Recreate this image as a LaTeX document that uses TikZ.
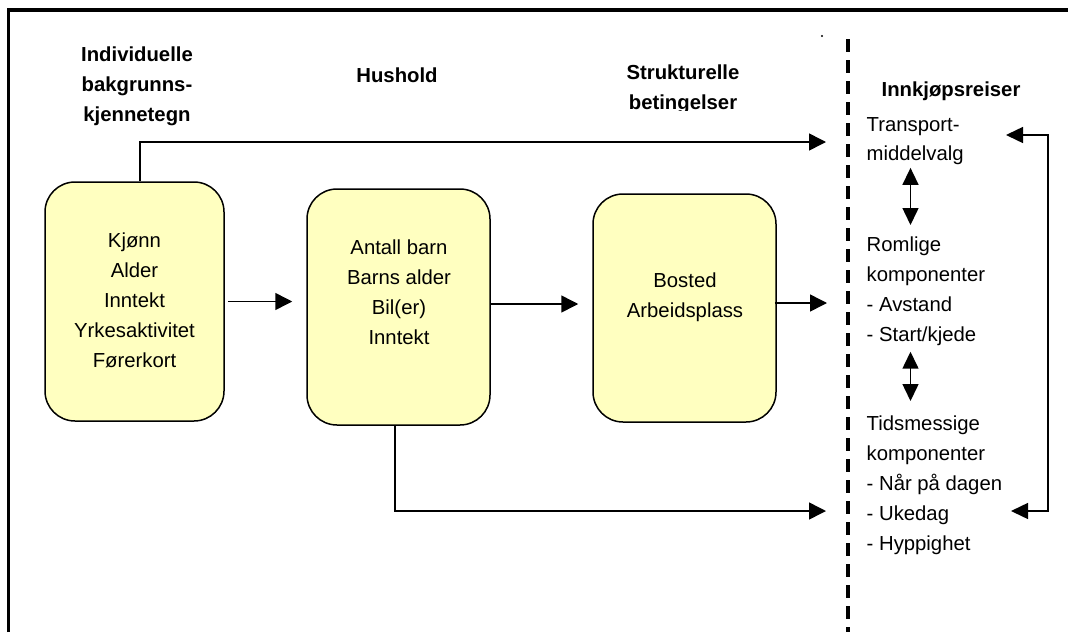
\documentclass[tikz,border=0pt]{standalone}
\usepackage{fontspec}
\setmainfont{Liberation Sans}
\usetikzlibrary{arrows.meta}
\definecolor{boxYellow}{RGB}{255,255,192}
\begin{document}
\begin{tikzpicture}[x=1pt, y=-1pt,
    every node/.style={font=\fontsize{20.3}{29.8}\selectfont}]

  \tikzstyle{factorBox} = [draw, line width=1.5, fill=boxYellow, rounded corners=30];
  \tikzstyle{txt} = [inner sep=0, align=center, anchor=north];
  \tikzstyle{listTxt} = [inner sep=0, align=left, anchor=north west];
  \tikzstyle{arr} = [line width=1.5, -{Triangle[length=17, width=17]}];
  \tikzstyle{dbl} = [line width=1.5, {Triangle[length=17, width=16]}-{Triangle[length=17, width=16]}];

  \useasboundingbox (0,0) rectangle (1068,632);

  % frame and dashed divider
  \draw[line width=3.3] (8.5,632) -- (8.5,10) -- (1068,10);
  \draw[line width=3.2, dash pattern=on 13 off 8] (848,39) -- (848,632);
  \fill (822,36) circle (1.1);

  % headings
  \node[txt, font=\fontsize{20.3}{29.8}\selectfont\bfseries] (indivHead) at (137,46.5) {Individuelle\\bakgrunns-\\kjennetegn};
  \node[txt, font=\fontsize{20.3}{29.8}\selectfont\bfseries] (husHead) at (397,68) {Hushold};
  \begin{scope}
    \clip (580,0) rectangle (790,110);
    \node[txt, font=\fontsize{20.3}{29.8}\selectfont\bfseries] (strukHead) at (683,64.5) {Strukturelle\\betingelser};
  \end{scope}
  \node[txt, font=\fontsize{20.3}{29.8}\selectfont\bfseries] (reiseHead) at (951,81.5) {Innkjøpsreiser};

  % boxes
  \node[factorBox, minimum width=179, minimum height=239] (indiv) at (134.5,301.5) {};
  \node[factorBox, minimum width=183, minimum height=236] (hushold) at (398.5,307) {};
  \node[factorBox, minimum width=183, minimum height=228] (struktur) at (684.5,308) {};

  \node[txt] (indivTxt) at (134.5,233) {Kjønn\\Alder\\Inntekt\\Yrkesaktivitet\\Førerkort};
  \node[txt] (husTxt) at (399,240) {Antall barn\\Barns alder\\Bil(er)\\Inntekt};
  \node[txt] (strukTxt) at (685,272.5) {Bosted\\Arbeidsplass};

  % travel components
  \node[listTxt] (transp) at (866.5,117) {Transport-\\middelvalg};
  \node[listTxt] (romlig) at (866.5,237) {Romlige\\komponenter\\- Avstand\\- Start/kjede};
  \node[listTxt] (tids) at (866.5,416) {Tidsmessige\\komponenter\\- Når på dagen\\- Ukedag\\- Hyppighet};

  \coordinate (inTop) at (826,142);
  \coordinate (inMid) at (827,303);
  \coordinate (inLow) at (826,511);
  \coordinate (fbLow) at (1011,511);
  \coordinate (fbHigh) at (1006,135);
  \coordinate (axis) at (910.5,0);

  % connectors
  \draw[arr] ([xshift=5.5]indiv.north) |- (inTop);
  \draw[arr, shorten <=3, shorten >=14] (indiv.east) -- (indiv.east -| hushold.west);
  \draw[arr, shorten >=14] ([yshift=3]hushold.east) -- ([yshift=3]hushold.east -| struktur.west);
  \draw[arr] ([yshift=5,xshift=-2]struktur.east) -- (inMid);
  \draw[arr] ([xshift=-3.5]hushold.south) |- (inLow);
  \draw[dbl] (fbLow) -- ++(37,0) |- (fbHigh);

  \draw[dbl, shorten <=2.5, shorten >=12] (transp.south -| axis) -- (romlig.north -| axis);
  \draw[dbl, shorten <=6, shorten >=15] (romlig.south -| axis) -- (tids.north -| axis);
\end{tikzpicture}
\end{document}
